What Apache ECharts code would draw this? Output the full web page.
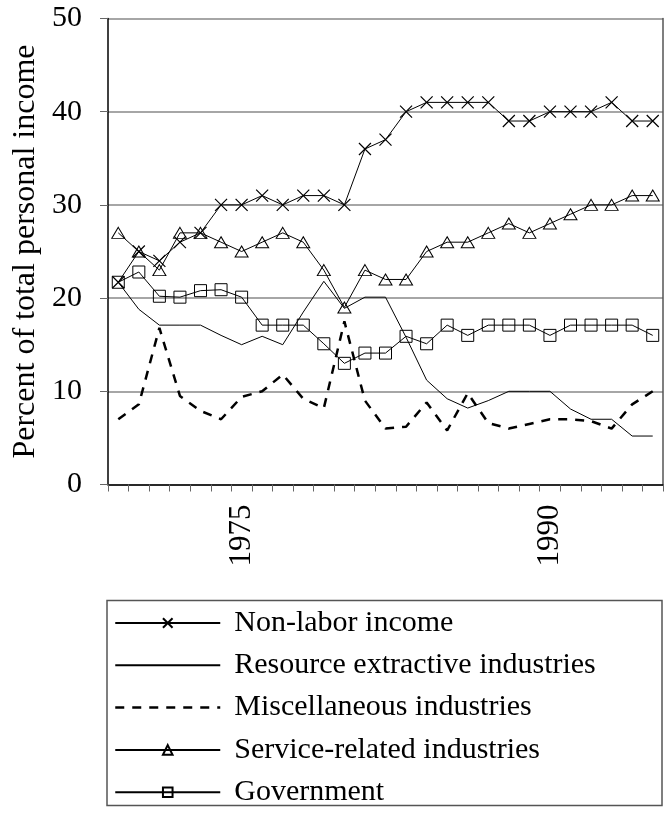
<!DOCTYPE html>
<html>
<head>
<meta charset="utf-8">
<script src="https://cdn.jsdelivr.net/npm/echarts@6/dist/echarts.min.js"></script>
<style>
  html, body { margin: 0; padding: 0; background: #fff; }
  #chart { width: 670px; height: 816px; }
</style>
</head>
<body>
<div id="chart"></div>
<script>
// years on the x axis
const years = []
for (let y = 1969; y <= 1995; y++) years.push(String(y))
const shownYears = ['1975', '1990']
const yTicks = [0, 10, 20, 30, 40, 50]

// percent of total personal income
const nonLabor = [21.7, 25, 24, 26, 27, 30, 30, 31, 30, 31, 31, 30, 36, 37, 40, 41, 41, 41, 41, 39, 39, 40, 40, 40, 41, 39, 39]
const resource = [21.7, 18.8, 17.1, 17.1, 17.1, 16, 15, 15.9, 15, 18.5, 21.8, 18.9, 20.1, 20.1, 15.8, 11.2, 9.2, 8.2, 9, 10, 10, 10, 8.1, 7, 7, 5.2, 5.2]
const misc = [7, 8.6, 16.8, 9.5, 7.9, 7, 9.4, 10, 11.8, 9.2, 8.2, 17.5, 9, 6, 6.2, 8.8, 5.8, 9.8, 6.6, 6, 6.5, 7, 7, 6.8, 6, 8.6, 10]
const service = [27, 25, 23, 27, 27, 26, 25, 26, 27, 26, 23, 19, 23, 22, 22, 25, 26, 26, 27, 28, 27, 28, 29, 30, 30, 31, 31]
const government = [21.7, 22.8, 20.2, 20.1, 20.8, 20.9, 20.1, 17.1, 17.1, 17.1, 15.1, 13, 14.1, 14.1, 15.9, 15.1, 17.1, 16, 17.1, 17.1, 17.1, 16, 17.1, 17.1, 17.1, 17.1, 16]

const seriesNames = [
  'Non-labor income',
  'Resource extractive industries',
  'Miscellaneous industries',
  'Service-related industries',
  'Government'
]

const font = 'Liberation Serif'
const chart = echarts.init(document.getElementById('chart'))

// hollow marker style
const hollow = { color: 'rgba(0,0,0,0)', borderColor: '#000', borderWidth: 1 }
// hide the legend marker of the plain lines
const noMark = { color: 'rgba(0,0,0,0)', borderColor: 'rgba(0,0,0,0)', borderWidth: 0, opacity: 0 }
const dashed = { color: '#000', width: 2.5, type: [9, 8] }

const option = {
  animation: false,
  backgroundColor: '#fff',
  grid: { left: 108, right: 7, top: 18.5, bottom: 331.5, containLabel: false, outerBoundsMode: 'none' },
  xAxis: {
    type: 'category',
    data: years,
    boundaryGap: true,
    axisLine: { lineStyle: { color: '#000', width: 1.5 } },
    axisTick: { show: true, interval: 0, length: 7, lineStyle: { color: '#666' } },
    axisLabel: {
      interval: (i, v) => shownYears.includes(v),
      rotate: 90,
      margin: 20,
      fontFamily: font,
      fontSize: 31,
      color: '#000'
    },
    splitLine: { show: false }
  },
  yAxis: [
    {
      type: 'value',
      min: yTicks[0],
      max: yTicks[yTicks.length - 1],
      interval: 10,
      name: 'Percent of total personal income',
      nameLocation: 'middle',
      nameGap: 64,
      nameTextStyle: { fontFamily: font, fontSize: 32, color: '#000' },
      axisLine: { show: true, lineStyle: { color: '#000', width: 1.5 } },
      axisTick: { show: true, length: 8, lineStyle: { color: '#666' } },
      axisLabel: { margin: 26, fontFamily: font, fontSize: 30, color: '#000' },
      splitLine: { show: true, lineStyle: { color: '#888', width: 1.5 } }
    },
    {
      type: 'value',
      position: 'right',
      min: 0,
      max: 50,
      axisLine: { show: true, lineStyle: { color: '#555', width: 1.5 } },
      axisTick: { show: false },
      axisLabel: { show: false },
      splitLine: { show: false }
    }
  ],
  legend: {
    orient: 'vertical',
    left: 114,
    top: 607,
    itemWidth: 105,
    itemHeight: 12,
    itemGap: 10.3,
    padding: 0,
    textStyle: { fontFamily: font, fontSize: 30, color: '#000', lineHeight: 32, padding: [0, 0, 0, 9] },
    data: [
      { name: seriesNames[0] },
      { name: seriesNames[1], itemStyle: noMark },
      { name: seriesNames[2], itemStyle: noMark, lineStyle: dashed },
      { name: seriesNames[3] },
      { name: seriesNames[4] }
    ]
  },
  graphic: [
    {
      type: 'rect',
      shape: { x: 107, y: 600.5, width: 555, height: 205 },
      style: { fill: 'none', stroke: '#555', lineWidth: 1.5 },
      z: -1
    }
  ],
  series: [
    {
      name: seriesNames[0],
      type: 'line',
      data: nonLabor,
      color: '#000',
      symbol: 'path://M0,0L10,10M10,0L0,10',
      symbolSize: 12,
      itemStyle: { color: '#000', borderColor: '#000', borderWidth: 1.2 },
      lineStyle: { color: '#000', width: 1 }
    },
    {
      name: seriesNames[1],
      type: 'line',
      data: resource,
      color: '#000',
      symbol: 'none',
      lineStyle: { color: '#000', width: 1 }
    },
    {
      name: seriesNames[2],
      type: 'line',
      data: misc,
      color: '#000',
      symbol: 'none',
      lineStyle: dashed
    },
    {
      name: seriesNames[3],
      type: 'line',
      data: service,
      color: '#000',
      symbol: 'triangle',
      symbolSize: [13, 11],
      itemStyle: hollow,
      lineStyle: { color: '#000', width: 1 }
    },
    {
      name: seriesNames[4],
      type: 'line',
      data: government,
      color: '#000',
      symbol: 'rect',
      symbolSize: 12,
      itemStyle: hollow,
      lineStyle: { color: '#000', width: 1 }
    }
  ]
}

chart.setOption(option)
</script>
</body>
</html>
